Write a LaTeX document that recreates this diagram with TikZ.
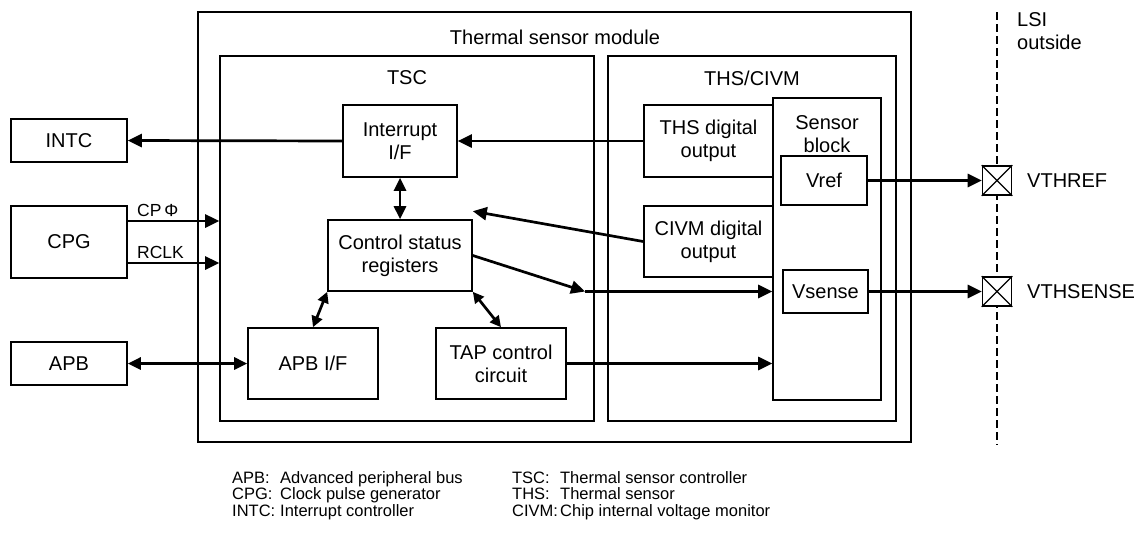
\documentclass[tikz,border=0pt]{standalone}
\usepackage{fontspec}
\setmainfont{Liberation Sans}
\usetikzlibrary{arrows.meta,calc}

\newcommand\boxfont{\fontsize{20}{23}\selectfont}
\newcommand\sigfont{\fontsize{17.5}{19}\selectfont}
\newcommand\legfont{\fontsize{16.5}{16.5}\selectfont}

% rectangle node given by its corner coordinates (x1,y1) (x2,y2)
\newcommand\blk[6]{%
  \node[box, minimum width={#4-#2}, minimum height={#5-#3}] (#1)
    at ({(#2+#4)/2},{(#3+#5)/2}) {#6};}

\begin{document}
\begin{tikzpicture}[x=1pt,y=-1pt,
  box/.style={draw, line width=1.6pt, inner sep=0pt, align=center, font=\boxfont, fill=white},
  lbl/.style={inner sep=0pt, align=center, font=\boxfont},
  arr/.style={line width=2.7pt, -{Triangle[length=14pt,width=13pt]}},
  dbl/.style={line width=2.7pt, {Triangle[length=13pt,width=12pt]}-{Triangle[length=13pt,width=12pt]}},
  sdbl/.style={line width=2.7pt, {Triangle[length=11pt,width=11pt]}-{Triangle[length=11pt,width=11pt]}},
  pad/.style={draw, line width=1.6pt, fill=white, minimum size=29pt, inner sep=0pt},
  leg/.style={anchor=base west, inner sep=0pt, font=\legfont}]

\useasboundingbox (0,0) rectangle (1145,533);

% boundary of the LSI
\coordinate (lsitop) at (997,12);
\coordinate (lsibot) at (997,445);
\draw[line width=2pt, dash pattern=on 8pt off 4pt] (lsitop) -- (lsibot);
\node[lbl, anchor=west, align=left] (lsi) at (1017,31) {LSI\\outside};

% module frames
\blk{mod}{198}{12}{911}{442}{}
\node[lbl] (modlbl) at (555,37) {Thermal sensor module};
\blk{tsc}{220}{56}{594}{421}{}
\node[lbl] (tsclbl) at (407,78) {TSC};
\blk{ths}{608}{56}{896}{421}{}
\node[lbl] (thslbl) at (752,78) {THS/CIVM};
\blk{sb}{773}{98}{881}{400}{}
\node[lbl] (sblbl) at (827,134) {Sensor\\block};

% inner blocks
\blk{intif}{343}{105}{457}{177}{Interrupt\\I/F}
\blk{thsd}{644}{105}{773}{177}{THS digital\\output}
\blk{csr}{328}{220}{472}{291}{Control status\\registers}
\blk{civm}{644}{206}{773}{277}{CIVM digital\\output}
\blk{vref}{781}{156}{867}{205}{Vref}
\blk{vsense}{783}{270}{868}{313}{Vsense}
\blk{apbif}{248}{328}{378}{399}{APB I/F}
\blk{tap}{436}{328}{566}{399}{TAP control\\circuit}

% outside blocks
\blk{intc}{11}{119}{127}{162}{INTC}
\blk{cpg}{11}{206}{127}{278}{CPG}
\blk{apb}{11}{342}{127}{385}{APB}

% external pins
\node[pad] (p1) at (997,180.5) {};
\draw[line width=1.3pt] (p1.north west) -- (p1.south east) (p1.north east) -- (p1.south west);
\node[pad] (p2) at (997,291.5) {};
\draw[line width=1.3pt] (p2.north west) -- (p2.south east) (p2.north east) -- (p2.south west);
\node[lbl, anchor=west] (vthref) at (1027,180.5) {VTHREF};
\node[lbl, anchor=west] (vthsense) at (1027,291.5) {VTHSENSE};

% connectors
\draw[arr] (thsd.west) -- (intif.east);
\draw[arr] (intif.west) -- (intc.east);
\draw[dbl] (intif.south) -- (csr.north);

\coordinate (cpphi) at (0,221);
\coordinate (rclk) at (0,263);
\draw[arr] (cpg.east |- cpphi) -- (tsc.west |- cpphi);
\draw[arr] (cpg.east |- rclk) -- (tsc.west |- rclk);
\node[anchor=south west, inner sep=0pt, font=\sigfont] (cplbl) at (137,217) {CP\,Φ};
\node[anchor=south west, inner sep=0pt, font=\sigfont] (rclklbl) at (137,259) {RCLK};

\draw[dbl] (apb.east) -- (apbif.west);

\draw[arr] (civm.west) -- ([yshift=8pt]csr.north east);
\coordinate (bend) at (585,291.5);
\draw[arr] (csr.east) -- (bend);
\draw[arr] (bend) -- (sb.west |- bend);
\draw[arr] (tap.east) -- (sb.west |- tap.east);

\draw[sdbl] (csr.south west) -- (apbif.north);
\draw[sdbl] (csr.south east) -- (tap.north);

\draw[arr] (vref.east) -- (p1.west);
\draw[arr] (vsense.east) -- (p2.west);

% abbreviations
\node[leg] (legend) at (232,483) {%
  \begin{tabular}[t]{@{}p{48pt}@{}p{232pt}@{}p{48pt}@{}l@{}}
    APB:  & Advanced peripheral bus & TSC:  & Thermal sensor controller\\
    CPG:  & Clock pulse generator   & THS:  & Thermal sensor\\
    INTC: & Interrupt controller    & CIVM: & Chip internal voltage monitor
  \end{tabular}};
\end{tikzpicture}
\end{document}
